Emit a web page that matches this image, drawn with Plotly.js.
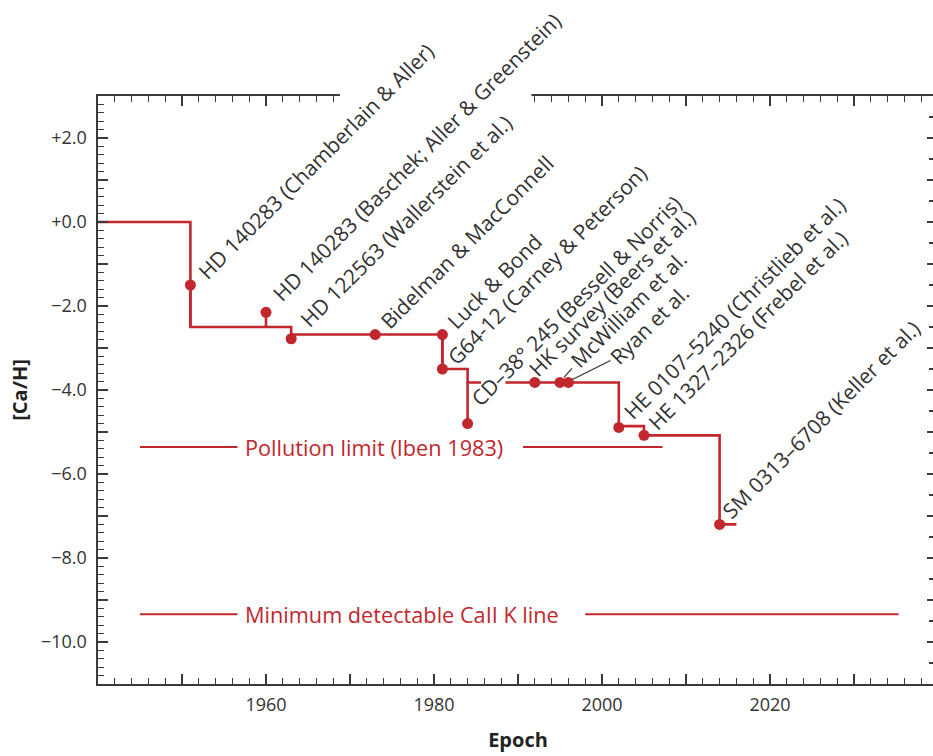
<!DOCTYPE html>
<html><head><meta charset="utf-8">
<script src="https://cdn.plot.ly/plotly-3.0.1.min.js"></script>
<style>html,body{margin:0;padding:0;overflow:hidden;background:#fff}#chart{width:940px;height:756px}</style>
</head><body><div id="chart"></div>
<script>
// ---- data ----
const starNames = [
  "HD 140283 (Chamberlain & Aller)",
  "HD 140283 (Baschek; Aller & Greenstein)",
  "HD 122563 (Wallerstein et al.)",
  "Bidelman & MacConnell",
  "Luck & Bond",
  "G64-12 (Carney & Peterson)",
  "CD\u201338\u00b0 245 (Bessell & Norris)",
  "HK survey (Beers et al.)",
  "McWilliam et al.",
  "Ryan et al.",
  "HE 0107\u20135240 (Christlieb et al.)",
  "HE 1327\u20132326 (Frebel et al.)",
  "SM 0313\u20136708 (Keller et al.)"
];
const starYears = [1951, 1960, 1963, 1973, 1981, 1981, 1984, 1992, 1995, 1996, 2002, 2005, 2014];
const starCaH   = [-1.5, -2.15, -2.78, -2.68, -2.68, -3.5, -4.8, -3.82, -3.82, -3.82, -4.89, -5.08, -7.2];

// record (lowest known) level, step function
const recordYears = [1940, 1951, 1963, 1981, 1984, 2002, 2005, 2014, 2016];
const recordCaH   = [0.0, -2.5, -2.68, -3.5, -3.82, -4.86, -5.08, -7.2, -7.2];

// reference limits
const pollutionYears = [1945, 1956.6, null, 1990.6, 2007.2];
const pollutionCaH = -5.36;
const pollutionLabel = "Pollution limit (Iben 1983)";
const detectYears = [1945, 1956.6, null, 1998.0, 2035.3];
const detectCaH = -9.34;
const detectLabel = "Minimum detectable CaII K line";

// labelled ticks (all other ticks are unlabelled)
const yTickVals = [-10, -8, -6, -4, -2, 0, 2];
const yTickText = ["\u221210.0", "\u22128.0", "\u22126.0", "\u22124.0", "\u22122.0", "+0.0", "+2.0"];
const xTickVals = [1960, 1980, 2000, 2020];
const xTickText = ["1960", "1980", "2000", "2020"];

// ---- styling / layout helpers ----
const RED = '#c1272d';
const AX = '#3a3a3a';
const TXT = '#333333';
const FONT = 'Open Sans, Noto Sans, sans-serif';
const LABEL_SIZE = 21;
const LIMIT_SIZE = 21.7;
const X_RANGE = [1940, 2040], Y_RANGE = [-11, 3];

// tick position lists
function steps(lo, hi, num, den) { // values lo..hi stepping num/den, built from integers
  const out = [];
  for (let k = Math.ceil(lo * den / num); k * num / den <= hi + 1e-9; k++) out.push(Math.round(k * num * 1000 / den) / 1000);
  return out;
}
const xFine = steps(1942, 2038, 2, 1);       // every 2 years
const xCoarse = steps(1950, 2030, 10, 1);    // every 10 years
const yFine = steps(-10.8, 2.8, 1, 5);       // every 0.2 dex
const yCoarse = steps(-10, 2, 1, 1);         // every 1 dex
const yRightFine = steps(-10.5, 2.5, 1, 2);  // every 0.5 dex
function labelsFor(vals, labVals, labText) {
  return vals.map(v => { const k = labVals.findIndex(u => Math.abs(u - v) < 1e-6); return k >= 0 ? labText[k] : ''; });
}

// label offsets (px) relative to each star's dot: [xshift, yshift]
const labelShift = [
  [2, 0], [1, 5], [3, 6], [-1, 0], [-1, 0],
  [-1, -2], [-3, 12], [-12, 0], [5, 9], [35, 12],
  [-1, 3], [-2, 0], [-3, 0]
];

// step line from record arrays
const stepTrace = {
  x: recordYears, y: recordCaH, mode: 'lines', type: 'scatter',
  line: {color: RED, width: 2.6, shape: 'hv'}, hoverinfo: 'skip'
};
// stems: connect each dot to the record level in force at its epoch
function levelAt(yr) {
  let lv = recordCaH[0];
  for (let i = 0; i < recordYears.length; i++) if (recordYears[i] <= yr) lv = recordCaH[i];
  return lv;
}
const stemX = [], stemY = [];
starYears.forEach((yr, i) => { stemX.push(yr, yr, null); stemY.push(starCaH[i], levelAt(yr), null); });
const stemTrace = {x: stemX, y: stemY, mode: 'lines', type: 'scatter', line: {color: RED, width: 2.6}, hoverinfo: 'skip'};
const dotTrace = {x: starYears, y: starCaH, mode: 'markers', type: 'scatter',
  marker: {color: RED, size: 11, line: {width: 0}}, text: starNames, hoverinfo: 'text'};
const pollutionTrace = {x: pollutionYears, y: pollutionYears.map(v => v === null ? null : pollutionCaH),
  mode: 'lines', type: 'scatter', line: {color: RED, width: 2}, hoverinfo: 'skip', connectgaps: false};
const detectTrace = {x: detectYears, y: detectYears.map(v => v === null ? null : detectCaH),
  mode: 'lines', type: 'scatter', line: {color: RED, width: 2}, hoverinfo: 'skip', connectgaps: false};
// invisible markers that register the frame / long-tick overlay axes
const frameTraces = [2, 3, 4].map(n => ({x: [recordYears[0]], y: [recordCaH[0]], xaxis: 'x' + n, yaxis: 'y' + n,
  type: 'scatter', mode: 'markers', marker: {opacity: 0}, hoverinfo: 'skip'}));

const annotations = starNames.map((name, i) => ({
  x: starYears[i], y: starCaH[i], xref: 'x', yref: 'y', text: name,
  showarrow: false, textangle: -45, xanchor: 'left', yanchor: 'bottom',
  xshift: labelShift[i][0], yshift: labelShift[i][1],
  font: {family: FONT, size: LABEL_SIZE, color: TXT}, borderpad: 0, borderwidth: 0
}));
annotations.push({x: pollutionYears[1], y: pollutionCaH, xref: 'x', yref: 'y', text: pollutionLabel,
  showarrow: false, xanchor: 'left', yanchor: 'middle', xshift: 6, font: {family: FONT, size: LIMIT_SIZE, color: RED}});
annotations.push({x: detectYears[1], y: detectCaH, xref: 'x', yref: 'y', text: detectLabel,
  showarrow: false, xanchor: 'left', yanchor: 'middle', xshift: 6, font: {family: FONT, size: LIMIT_SIZE, color: RED}});

const shapes = [
  // leader lines for McWilliam (8) and Ryan (9)
  {type: 'line', xref: 'x', yref: 'y', xsizemode: 'pixel', ysizemode: 'pixel',
   xanchor: starYears[8], yanchor: starCaH[8], x0: 4, y0: 5, x1: 12, y1: 14, line: {color: TXT, width: 1.2}},
  {type: 'line', xref: 'x', yref: 'y', xsizemode: 'pixel', ysizemode: 'pixel',
   xanchor: starYears[9], yanchor: starCaH[9], x0: 4, y0: 3, x1: 42, y1: 22, line: {color: TXT, width: 1.2}},
  // white knock-outs where labels pass over the frame and the record line
  {type: 'rect', xref: 'x', yref: 'paper', x0: 1968.8, x1: 1991.6, y0: 0.97, y1: 1.012,
   fillcolor: '#ffffff', line: {width: 0}, layer: 'above'},
  {type: 'line', xref: 'x', yref: 'y', x0: 1985.6, x1: 1988.5, y0: recordCaH[4], y1: recordCaH[4],
   line: {color: '#ffffff', width: 5}, layer: 'above'}
];

function ax(range, vals, len, extra) {
  return Object.assign({range: range, showgrid: false, zeroline: false, showline: true,
    linecolor: AX, linewidth: 1.6, ticks: 'inside', ticklen: len, tickwidth: 1.2, tickcolor: AX,
    tickmode: 'array', tickvals: vals, showticklabels: false}, extra || {});
}

const layout = {
  width: 940, height: 756,
  margin: {l: 98, r: 2, t: 96, b: 72},
  paper_bgcolor: '#ffffff', plot_bgcolor: '#ffffff',
  showlegend: false,
  font: {family: FONT, color: TXT},
  // bottom / left: short ticks + labels
  xaxis: ax(X_RANGE, xFine, 6, {
    showticklabels: true, ticktext: labelsFor(xFine, xTickVals, xTickText),
    tickfont: {family: FONT, size: 18, color: TXT}, ticklabelstandoff: 4,
    title: {text: '<b>Epoch</b>', font: {family: FONT, size: 20, color: '#222'}, standoff: 18}
  }),
  yaxis: ax(Y_RANGE, yFine, 6, {
    showticklabels: true, ticktext: labelsFor(yFine, yTickVals, yTickText),
    tickfont: {family: FONT, size: 18, color: TXT}, ticklabelstandoff: 6,
    title: {text: '<b>[Ca/H]</b>', font: {family: FONT, size: 20, color: '#222'}, standoff: 8}
  }),
  // top / right frame, short ticks
  xaxis2: ax(X_RANGE, xFine, 6, {overlaying: 'x', side: 'top', anchor: 'y2'}),
  yaxis2: ax(Y_RANGE, yRightFine, 9, {overlaying: 'y', side: 'right', anchor: 'x2'}),
  // long ticks, bottom / left
  xaxis3: ax(X_RANGE, xCoarse, 10, {overlaying: 'x', side: 'bottom', anchor: 'y3', tickwidth: 1.3}),
  yaxis3: ax(Y_RANGE, yCoarse, 10, {overlaying: 'y', side: 'left', anchor: 'x3', tickwidth: 1.3}),
  // long ticks, top / right
  xaxis4: ax(X_RANGE, xCoarse, 10, {overlaying: 'x', side: 'top', anchor: 'y4', tickwidth: 1.3}),
  yaxis4: ax(Y_RANGE, yCoarse, 11, {overlaying: 'y', side: 'right', anchor: 'x4', tickwidth: 1.3}),
  annotations: annotations,
  shapes: shapes
};

Plotly.newPlot('chart', [pollutionTrace, detectTrace, stepTrace, stemTrace, dotTrace].concat(frameTraces), layout,
  {displayModeBar: false, staticPlot: true});
</script>
</body></html>
